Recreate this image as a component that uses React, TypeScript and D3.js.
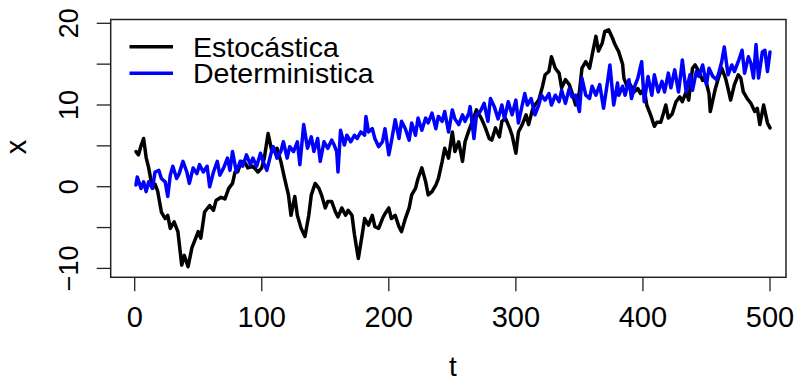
import React from 'react';
import * as d3 from 'd3';

// series (t, value)
const estT = [1, 3, 5, 7, 9, 11, 14, 16, 18, 21, 24, 26, 28, 31, 34, 37, 39, 42, 45, 47, 50, 52, 55, 59, 62, 64, 68, 71, 74, 77, 79, 81, 84, 87, 89, 93, 97, 100, 102, 105, 108, 110, 112, 115, 118, 121, 123, 126, 128, 131, 134, 137, 139, 142, 145, 147, 150, 152, 155, 158, 160, 163, 166, 168, 171, 173, 176, 179, 181, 184, 187, 189, 192, 195, 197, 200, 202, 205, 208, 210, 213, 216, 218, 221, 223, 226, 229, 231, 234, 237, 239, 242, 244, 247, 250, 252, 255, 258, 260, 263, 266, 269, 273, 276, 279, 281, 284, 287, 289, 292, 295, 297, 300, 302, 305, 308, 310, 313, 315, 318, 321, 323, 326, 328, 331, 334, 336, 339, 342, 344, 347, 350, 352, 355, 358, 360, 363, 365, 368, 370, 373, 376, 378, 381, 384, 385, 388, 390, 393, 396, 398, 401, 403, 406, 409, 411, 414, 416, 418, 420, 423, 426, 429, 431, 434, 436, 439, 441, 444, 447, 449, 452, 453, 457, 459, 462, 465, 467, 469, 472, 475, 477, 479, 482, 485, 488, 490, 492, 495, 498, 500];
const estX = [4.3, 3.9, 5.0, 5.9, 3.6, 2.3, -0.2, 0.3, -0.5, -3.1, -3.9, -3.5, -5.1, -4.3, -5.5, -9.6, -8.4, -9.8, -7.5, -6.7, -5.5, -6.3, -3.1, -2.3, -2.9, -1.7, -1.3, -1.5, -0.2, 0.4, 1.8, 1.8, 3.1, 2.9, 2.3, 2.5, 1.8, 2.3, 3.5, 6.5, 4.3, 4.5, 4.7, 3.1, 1.0, -1.0, -3.5, -1.2, -3.5, -5.1, -6.1, -3.5, -1.0, 0.4, -0.2, -1.0, -2.6, -1.8, -1.8, -3.1, -3.7, -2.6, -3.5, -2.9, -3.5, -5.9, -8.8, -5.9, -3.9, -4.7, -3.5, -4.9, -5.1, -3.9, -3.3, -2.6, -3.9, -3.5, -4.9, -5.5, -3.9, -2.6, -1.0, -0.2, 1.0, 2.3, 0.6, -1.0, -0.6, 0.2, 1.0, 3.1, 4.7, 3.5, 6.7, 4.3, 5.5, 3.1, 5.5, 6.9, 8.1, 9.4, 8.3, 7.2, 5.9, 5.7, 7.2, 6.1, 8.0, 8.3, 7.2, 6.3, 4.1, 6.7, 7.6, 8.8, 7.6, 9.4, 10.0, 10.6, 12.3, 13.7, 14.1, 15.9, 14.5, 13.9, 12.1, 13.1, 12.5, 11.6, 10.0, 11.6, 14.5, 15.3, 14.5, 16.1, 18.4, 16.6, 17.6, 19.0, 19.2, 18.2, 17.4, 16.5, 15.0, 13.3, 12.1, 12.5, 11.6, 12.0, 11.4, 12.0, 10.0, 8.8, 7.4, 7.9, 7.9, 8.9, 10.0, 8.4, 8.9, 10.4, 11.0, 10.4, 11.6, 10.6, 14.5, 14.9, 14.1, 13.0, 13.3, 11.4, 9.2, 12.0, 13.1, 14.5, 13.3, 12.0, 10.6, 12.5, 13.7, 13.3, 11.6, 10.8, 10.2, 9.2, 9.6, 7.6, 10.0, 7.8, 7.2];

const detT = [1, 2, 5, 7, 9, 11, 14, 16, 19, 21, 24, 26, 28, 30, 33, 35, 38, 41, 43, 46, 49, 51, 54, 57, 59, 62, 65, 67, 70, 73, 75, 77, 80, 83, 85, 88, 91, 93, 96, 99, 101, 104, 107, 109, 112, 115, 117, 120, 122, 125, 128, 130, 133, 136, 139, 141, 144, 146, 149, 152, 155, 157, 159, 160, 162, 165, 167, 170, 173, 175, 178, 181, 182, 184, 187, 189, 192, 195, 197, 200, 202, 205, 208, 210, 213, 216, 218, 221, 223, 226, 229, 231, 234, 237, 239, 242, 244, 247, 250, 252, 255, 258, 260, 263, 264, 267, 269, 272, 275, 278, 280, 283, 286, 289, 291, 294, 297, 300, 302, 305, 307, 309, 312, 315, 318, 320, 323, 326, 328, 331, 334, 336, 339, 342, 344, 347, 350, 352, 355, 358, 360, 363, 366, 369, 372, 374, 377, 380, 381, 384, 386, 389, 391, 394, 396, 399, 401, 404, 407, 409, 412, 415, 417, 420, 422, 425, 428, 430, 431, 434, 437, 439, 442, 444, 447, 450, 452, 455, 458, 460, 462, 464, 467, 470, 472, 475, 478, 480, 483, 485, 487, 489, 491, 494, 496, 498, 500];
const detX = [0.2, 1.2, -0.2, 0.6, -0.6, 0.6, -0.2, 1.8, 2.0, 1.0, 0.6, -1.2, 1.4, 2.5, 1.0, 1.6, 3.1, 1.8, 0.4, 2.3, 1.6, 2.7, 1.8, 2.5, 0.0, 1.8, 3.1, 1.4, 2.3, 3.5, 2.0, 4.3, 1.8, 3.1, 2.5, 3.9, 2.7, 3.5, 2.5, 4.1, 3.1, 2.0, 3.9, 4.9, 3.5, 4.3, 5.5, 3.5, 4.9, 4.3, 5.5, 2.7, 7.6, 4.7, 6.1, 4.3, 5.9, 3.1, 5.5, 4.7, 5.7, 5.1, 4.3, 1.8, 6.9, 5.1, 6.3, 5.5, 6.3, 5.9, 6.7, 6.3, 8.6, 6.7, 7.1, 5.9, 4.9, 5.5, 7.1, 3.9, 5.5, 8.2, 5.9, 8.0, 7.1, 5.7, 7.8, 6.3, 8.4, 6.9, 8.4, 7.8, 9.0, 7.1, 8.6, 8.0, 9.2, 6.7, 9.4, 8.3, 7.6, 8.8, 8.0, 9.0, 9.8, 5.9, 8.8, 9.2, 10.2, 8.0, 10.8, 9.8, 8.3, 10.0, 8.3, 10.4, 8.8, 10.6, 7.8, 10.0, 11.4, 10.0, 10.8, 8.8, 10.0, 11.2, 10.6, 11.4, 10.0, 11.2, 10.4, 11.8, 10.2, 12.0, 11.0, 11.2, 9.2, 13.3, 11.2, 10.8, 12.3, 11.2, 12.5, 9.6, 12.7, 14.9, 10.0, 12.7, 11.2, 12.3, 11.2, 13.1, 10.8, 12.5, 13.3, 15.3, 10.4, 13.5, 11.2, 13.7, 11.6, 12.9, 11.6, 13.9, 12.1, 14.3, 11.6, 14.1, 15.5, 11.6, 13.7, 11.8, 14.1, 13.5, 14.9, 12.5, 14.5, 13.5, 13.1, 14.1, 15.3, 17.1, 13.7, 14.9, 14.1, 15.3, 16.7, 13.9, 15.9, 15.1, 13.3, 17.4, 13.3, 16.5, 16.7, 14.1, 16.5, 15.1];

const xTicks = [0, 100, 200, 300, 400, 500];
const yTicks = [-10, -5, 0, 5, 10, 15, 20];
const yLabels = ['−10', '', '0', '', '10', '', '20'];
const legendNames = ['Estocástica', 'Deterministica'];
const legendColors = ['#000000', '#0000ff'];

const font = '"Liberation Sans", Arial, Helvetica, sans-serif';

const App = () => {
  const width = 798;
  const height = 380;

  // zone du graphique
  const box = { left: 110.7, right: 786, top: 19.5, bottom: 277.3 };

  const x = d3.scaleLinear().domain([0, 500]).range([134.7, 770]);
  const y = d3.scaleLinear().domain([-10, 20]).range([268.4, 23.3]);

  const line = d3.line<[number, number]>()
    .x(d => x(d[0]))
    .y(d => y(d[1]));

  const estPath = line(estT.map((t, i) => [t, estX[i]]));
  const detPath = line(detT.map((t, i) => [t, detX[i]]));

  return (
    <svg width={width} height={height} style={{ position: 'absolute', left: 0, top: 0, background: '#fff' }}>
      <rect x={0} y={0} width={width} height={height} fill="#fff" />

      <path d={estPath || ''} fill="none" stroke={legendColors[0]} strokeWidth={3.5} strokeLinejoin="round" strokeLinecap="round" />
      <path d={detPath || ''} fill="none" stroke={legendColors[1]} strokeWidth={3.5} strokeLinejoin="round" strokeLinecap="round" />

      <rect x={box.left} y={box.top} width={box.right - box.left} height={box.bottom - box.top} fill="none" stroke="#222" strokeWidth={1.5} />

      {/* axe des x */}
      {xTicks.map(t => (
        <g key={'xt' + t}>
          <line x1={x(t)} x2={x(t)} y1={box.bottom} y2={box.bottom + 14} stroke="#222" strokeWidth={1.3} />
          <text x={x(t)} y={327} textAnchor="middle" fontFamily={font} fontSize={29}>{t}</text>
        </g>
      ))}

      {/* axe des y */}
      {yTicks.map((v, i) => (
        <g key={'yt' + v}>
          <line x1={box.left - 14} x2={box.left} y1={y(v)} y2={y(v)} stroke="#222" strokeWidth={1.3} />
          {yLabels[i] && (
            <text transform={`translate(78,${y(v)}) rotate(-90)`} textAnchor="middle" fontFamily={font} fontSize={27}>{yLabels[i]}</text>
          )}
        </g>
      ))}

      <text x={453} y={376} textAnchor="middle" fontFamily={font} fontSize={28}>t</text>
      <text transform="translate(26,147) rotate(-90)" textAnchor="middle" fontFamily={font} fontSize={29}>x</text>

      {/* légende */}
      {legendNames.map((name, i) => (
        <g key={name}>
          <line x1={129.5} x2={173} y1={46.7 + i * 26.6} y2={46.7 + i * 26.6} stroke={legendColors[i]} strokeWidth={3.5} />
          <text x={193} y={56.5 + i * 26.6} fontFamily={font} fontSize={28.5}>{name}</text>
        </g>
      ))}
    </svg>
  );
};

export default App;
